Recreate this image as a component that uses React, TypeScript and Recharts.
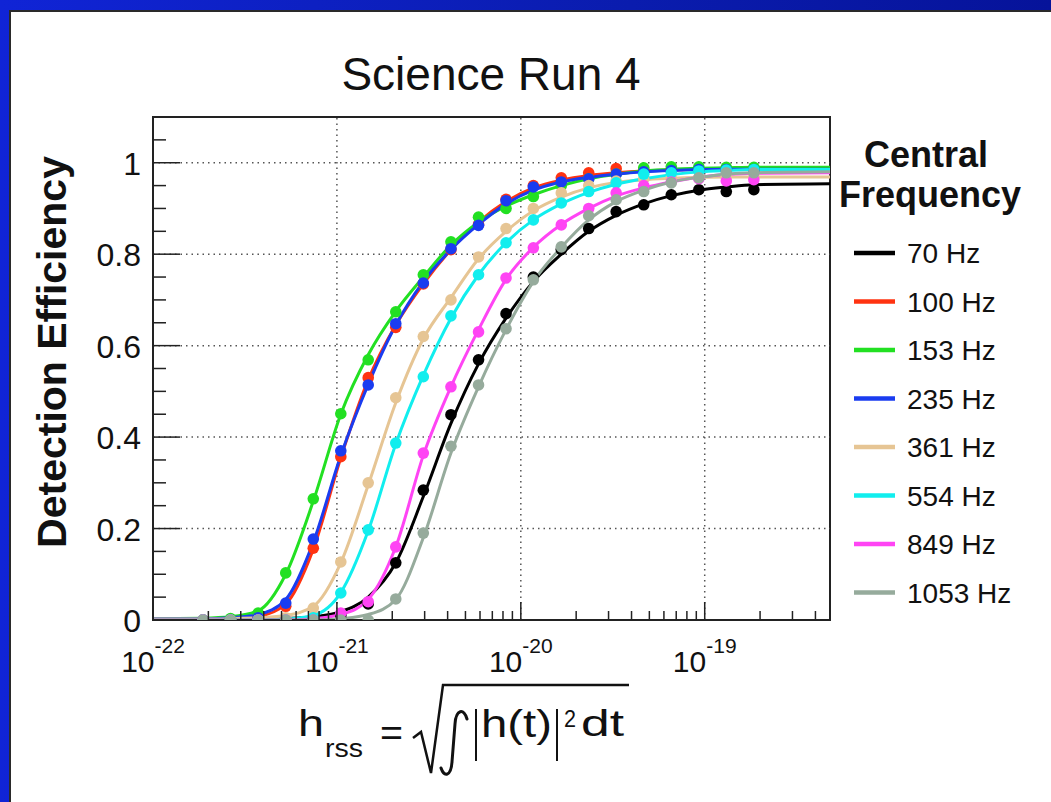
import React from 'react';
import {
  ComposedChart,
  Line,
  Scatter,
  XAxis,
  YAxis,
  ReferenceLine,
  ReferenceArea,
} from 'recharts';

// injected hrss values (same grid for every frequency)
const hrss = [
  1.87e-22, 2.64e-22, 3.73e-22, 5.27e-22, 7.44e-22, 1.05e-21, 1.48e-21, 2.09e-21,
  2.95e-21, 4.17e-21, 5.89e-21, 8.31e-21, 1.17e-20, 1.66e-20, 2.34e-20, 3.3e-20,
  4.66e-20, 6.58e-20, 9.29e-20, 1.31e-19, 1.85e-19,
];
// fit curves are read at the plot edges plus the same grid
const hrssFit = [1e-22, ...hrss, 4.8e-19];

const freqs = ['70 Hz', '100 Hz', '153 Hz', '235 Hz', '361 Hz', '554 Hz', '849 Hz', '1053 Hz'];
const colors = ['#000000', '#ff3311', '#22e022', '#1a3cf0', '#e6c594', '#11eeee', '#ff44f4', '#96ab9c'];

// measured efficiencies
const eff70 = [0, 0, 0, 0, 0, 0.01, 0.035, 0.125, 0.284, 0.449, 0.569, 0.67, 0.75, 0.81, 0.856, 0.893, 0.908, 0.93, 0.941, 0.937, 0.941];
const eff100 = [0, 0, 0.005, 0.03, 0.157, 0.357, 0.53, 0.64, 0.735, 0.81, 0.865, 0.92, 0.95, 0.967, 0.978, 0.987, 0.985, 0.985, 0.985, 0.985, 0.985];
const eff153 = [0, 0.003, 0.015, 0.103, 0.265, 0.451, 0.569, 0.674, 0.755, 0.827, 0.881, 0.9, 0.926, 0.95, 0.965, 0.975, 0.989, 0.991, 0.991, 0.99, 0.99];
const eff235 = [0, 0, 0.005, 0.037, 0.177, 0.37, 0.514, 0.648, 0.737, 0.812, 0.863, 0.917, 0.947, 0.958, 0.965, 0.975, 0.98, 0.983, 0.985, 0.985, 0.985];
const eff361 = [0, 0, 0, 0.005, 0.026, 0.127, 0.3, 0.486, 0.62, 0.7, 0.794, 0.856, 0.9, 0.934, 0.95, 0.96, 0.965, 0.967, 0.968, 0.968, 0.968];
const eff554 = [0, 0, 0, 0, 0.005, 0.059, 0.197, 0.387, 0.532, 0.665, 0.755, 0.825, 0.875, 0.912, 0.937, 0.956, 0.975, 0.978, 0.982, 0.984, 0.985];
const eff849 = [0, 0, 0, 0, 0, 0.015, 0.04, 0.16, 0.365, 0.51, 0.63, 0.748, 0.814, 0.864, 0.9, 0.934, 0.95, 0.958, 0.965, 0.96, 0.963];
const eff1053 = [0, 0, 0, 0, 0, 0, 0, 0.046, 0.19, 0.38, 0.514, 0.637, 0.744, 0.816, 0.884, 0.919, 0.937, 0.956, 0.967, 0.978, 0.978];

// fitted curves
const fit70 = [0, 0, 0, 0.001, 0.003, 0.007, 0.018, 0.05, 0.125, 0.27, 0.43, 0.56, 0.66, 0.74, 0.8, 0.85, 0.885, 0.91, 0.928, 0.94, 0.947, 0.952, 0.954];
const fit100 = [0.002, 0.002, 0.004, 0.008, 0.035, 0.155, 0.355, 0.525, 0.645, 0.735, 0.81, 0.87, 0.915, 0.945, 0.962, 0.972, 0.978, 0.982, 0.984, 0.985, 0.985, 0.985, 0.985];
const fit153 = [0.003, 0.004, 0.007, 0.02, 0.1, 0.26, 0.45, 0.58, 0.675, 0.75, 0.82, 0.87, 0.905, 0.93, 0.95, 0.965, 0.975, 0.982, 0.986, 0.988, 0.989, 0.99, 0.99];
const fit235 = [0.003, 0.003, 0.005, 0.012, 0.045, 0.17, 0.36, 0.515, 0.645, 0.74, 0.81, 0.865, 0.91, 0.94, 0.958, 0.968, 0.975, 0.98, 0.983, 0.985, 0.986, 0.986, 0.986];
const fit361 = [0.002, 0.002, 0.003, 0.005, 0.01, 0.03, 0.125, 0.295, 0.475, 0.615, 0.705, 0.79, 0.85, 0.895, 0.925, 0.945, 0.957, 0.963, 0.966, 0.968, 0.969, 0.969, 0.969];
const fit554 = [0, 0, 0, 0, 0.002, 0.01, 0.06, 0.195, 0.385, 0.535, 0.66, 0.755, 0.825, 0.875, 0.91, 0.935, 0.953, 0.965, 0.974, 0.98, 0.983, 0.985, 0.985];
const fit849 = [0, 0, 0, 0, 0, 0.003, 0.012, 0.045, 0.16, 0.36, 0.51, 0.635, 0.745, 0.815, 0.865, 0.9, 0.927, 0.945, 0.958, 0.968, 0.974, 0.977, 0.978];
const fit1053 = [0, 0, 0, 0, 0, 0, 0.003, 0.012, 0.045, 0.18, 0.365, 0.51, 0.635, 0.74, 0.815, 0.875, 0.915, 0.94, 0.958, 0.968, 0.975, 0.978, 0.98];

const xMajor = [1e-22, 1e-21, 1e-20, 1e-19];
const xMajorLabels = ['-22', '-21', '-20', '-19'];
const xMinor = [
  2e-22, 3e-22, 4e-22, 5e-22, 6e-22, 7e-22, 8e-22, 9e-22,
  2e-21, 3e-21, 4e-21, 5e-21, 6e-21, 7e-21, 8e-21, 9e-21,
  2e-20, 3e-20, 4e-20, 5e-20, 6e-20, 7e-20, 8e-20, 9e-20,
  2e-19, 3e-19, 4e-19,
];
const yMajor = [0, 0.2, 0.4, 0.6, 0.8, 1];
const yMajorLabels = ['0', '0.2', '0.4', '0.6', '0.8', '1'];
const yMinor = [0.05, 0.1, 0.15, 0.25, 0.3, 0.35, 0.45, 0.5, 0.55, 0.65, 0.7, 0.75, 0.85, 0.9, 0.95, 1.05];

const xGrid = [1e-21, 1e-20, 1e-19];
const yGrid = [0.2, 0.4, 0.6, 0.8, 1];

const effs = [eff70, eff100, eff153, eff235, eff361, eff554, eff849, eff1053];
const fits = [fit70, fit100, fit153, fit235, fit361, fit554, fit849, fit1053];

const series = freqs.map((name, i) => ({
  name,
  color: colors[i],
  points: hrss.map((h, j) => ({ h, e: effs[i][j] })),
  fit: hrssFit.map((h, j) => ({ h, e: fits[i][j] })),
}));

const FONT = '"Liberation Sans", Arial, sans-serif';
const AXIS = '#222';
const INK = '#111';

const findIdx = (arr: number[], v: number) =>
  arr.findIndex((m) => (m === 0 ? Math.abs(v) < 1e-9 : Math.abs(m - v) <= Math.abs(m) * 1e-6));

const XTick = (props: any) => {
  const { x, y, payload } = props;
  const i = findIdx(xMajor, payload.value);
  const major = i >= 0;
  return (
    <g>
      <line x1={x} x2={x} y1={y} y2={y - (major ? 18 : 9)} stroke={AXIS} strokeWidth={1.5} />
      {major && (
        <text x={x} y={y + 52} textAnchor="middle" fontFamily={FONT} fontSize={30} fill={INK}>
          10
          <tspan dy={-19} fontSize={21}>
            {xMajorLabels[i]}
          </tspan>
        </text>
      )}
    </g>
  );
};

const YTick = (props: any) => {
  const { x, y, payload } = props;
  const i = findIdx(yMajor, payload.value);
  const major = i >= 0;
  return (
    <g>
      <line x1={x} x2={x + (major ? 27 : 13)} y1={y} y2={y} stroke={AXIS} strokeWidth={1.5} />
      {major && (
        <text x={x - 12} y={y + 12} textAnchor="end" fontFamily={FONT} fontSize={32} fill={INK}>
          {yMajorLabels[i]}
        </text>
      )}
    </g>
  );
};

const Dot = (color: string) => (props: any) =>
  <circle cx={props.cx} cy={props.cy} r={5.8} fill={color} />;

export default function App() {
  return (
    <div
      style={{
        position: 'absolute',
        left: 0,
        top: 0,
        width: 1051,
        height: 802,
        background: 'linear-gradient(90deg, #1024d6 0%, #0a1cae 60%, #06139a 100%)',
        overflow: 'hidden',
      }}
    >
      <div
        style={{
          position: 'absolute',
          left: 9,
          top: 10,
          right: 0,
          bottom: 0,
          background: '#fff',
          borderTop: '2px solid #2a2a2a',
          borderLeft: '2px solid #2a2a2a',
        }}
      />
      <div style={{ position: 'absolute', left: 0, top: 0 }}>
        <ComposedChart
          width={1051}
          height={802}
          margin={{ top: 117, right: 221, bottom: 122, left: 10 }}
        >
          <XAxis
            dataKey="h"
            type="number"
            scale="log"
            domain={[1e-22, 4.8e-19]}
            allowDataOverflow
            ticks={[...xMajor, ...xMinor]}
            interval={0}
            tick={<XTick />}
            tickLine={false}
            tickSize={0}
            tickMargin={0}
            height={60}
            axisLine={{ stroke: AXIS, strokeWidth: 2 }}
          />
          <YAxis
            dataKey="e"
            type="number"
            domain={[0, 1.1]}
            allowDataOverflow
            ticks={[...yMajor, ...yMinor]}
            interval={0}
            tick={<YTick />}
            tickLine={false}
            tickSize={0}
            tickMargin={0}
            width={143}
            axisLine={{ stroke: AXIS, strokeWidth: 2 }}
          />
          {xGrid.map((v) => (
            <ReferenceLine key={'gx' + v} x={v} stroke="#555" strokeWidth={1.5} strokeDasharray="1.5 4" />
          ))}
          {yGrid.map((v) => (
            <ReferenceLine key={'gy' + v} y={v} stroke="#555" strokeWidth={1.5} strokeDasharray="1.5 4" />
          ))}
          {series.flatMap((s) => [
            <Line
              key={'l' + s.name}
              data={s.fit}
              dataKey="e"
              name={s.name}
              type="monotone"
              stroke={s.color}
              strokeWidth={3}
              dot={false}
              activeDot={false}
              isAnimationActive={false}
              legendType="none"
            />,
            <Scatter
              key={'s' + s.name}
              data={s.points}
              dataKey="e"
              name={s.name}
              fill={s.color}
              shape={Dot(s.color)}
              isAnimationActive={false}
              legendType="none"
            />,
          ])}
          <ReferenceArea
            x1={1e-22}
            x2={4.8e-19}
            y1={0}
            y2={1.1}
            fill="none"
            fillOpacity={0}
            stroke={AXIS}
            strokeWidth={2}
          />
        </ComposedChart>
      </div>
      <svg
        width={1051}
        height={802}
        style={{ position: 'absolute', left: 0, top: 0, pointerEvents: 'none' }}
        fontFamily={FONT}
      >
        <text x={491} y={90} textAnchor="middle" fontSize={46} fill={INK}>
          Science Run 4
        </text>
        <text
          transform="translate(66,352) rotate(-90)"
          textAnchor="middle"
          fontSize={41}
          fontWeight="bold"
          fill={INK}
        >
          Detection Efficiency
        </text>
        <text x={926} y={167} textAnchor="middle" fontSize={36} fontWeight="bold" fill={INK}>
          Central
        </text>
        <text x={930} y={207} textAnchor="middle" fontSize={36} fontWeight="bold" fill={INK}>
          Frequency
        </text>
        {series.map((s, i) => (
          <g key={'lg' + s.name}>
            <line x1={854} x2={895} y1={253 + 48.5 * i} y2={253 + 48.5 * i} stroke={s.color} strokeWidth={4.5} />
            <text x={907} y={263 + 48.5 * i} fontSize={28} fill={INK}>
              {s.name}
            </text>
          </g>
        ))}
        {/* x axis title: h_rss = sqrt( integral |h(t)|^2 dt ) */}
        <text x={298} y={736} fontSize={36} fill={INK} textLength={26} lengthAdjust="spacingAndGlyphs">h</text>
        <text x={325} y={757} fontSize={26} fill={INK} textLength={38} lengthAdjust="spacingAndGlyphs">rss</text>
        <text x={380} y={745} fontSize={36} fill={INK} textLength={23} lengthAdjust="spacingAndGlyphs">=</text>
        <path
          d="M413,738 L421,732 L431,773 L443,685 L629,685"
          fill="none"
          stroke={INK}
          strokeWidth={2.5}
          strokeLinejoin="miter"
        />
        <path
          d="M467,719 C464,708 456,709 455,724 L452,762 C451,777 444,777 441,768"
          fill="none"
          stroke={INK}
          strokeWidth={3}
          strokeLinecap="round"
        />
        <line x1={476} x2={476} y1={709} y2={761} stroke={INK} strokeWidth={2} />
        <text x={481} y={737} fontSize={38} fill={INK} textLength={71} lengthAdjust="spacingAndGlyphs">h(t)</text>
        <line x1={557} x2={557} y1={709} y2={761} stroke={INK} strokeWidth={2} />
        <text x={564} y={727} fontSize={24} fill={INK} textLength={12} lengthAdjust="spacingAndGlyphs">2</text>
        <text x={581} y={736} fontSize={36} fill={INK} textLength={43} lengthAdjust="spacingAndGlyphs">dt</text>
      </svg>
    </div>
  );
}
